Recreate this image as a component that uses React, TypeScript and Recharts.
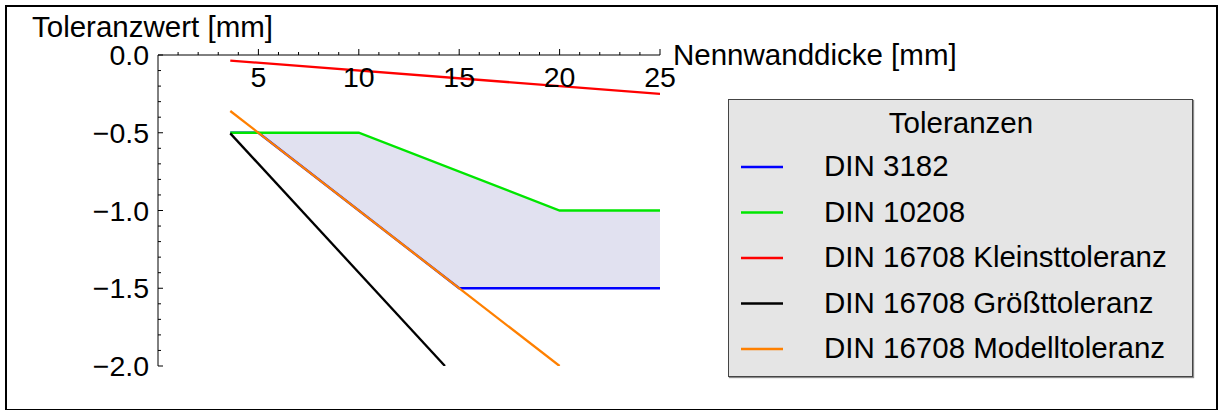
import { ComposedChart, Line, Area, XAxis, YAxis, Legend } from 'recharts'

const FONT = '"Liberation Sans", Arial, sans-serif'
const FONT_SIZE = 29.5
const TICK_SIZE = 28.5

const W = 1219
const H = 410
const PLOT_LEFT = 158
const PLOT_TOP = 55
const PLOT_RIGHT = 660
const PLOT_BOTTOM = 366
const Y_AXIS_W = 60
const X_AXIS_H = 30

// Nennwanddicke [mm] breakpoints and Toleranzwert [mm] per standard
const din3182X = [3.6, 5, 15, 25]
const din3182Y = [-0.5, -0.5, -1.5, -1.5]
const din10208X = [3.6, 10, 20, 25]
const din10208Y = [-0.5, -0.5, -1.0, -1.0]
const kleinstX = [3.6, 25]
const kleinstY = [-0.036, -0.25]
const groesstX = [3.6, 14.29]
const groesstY = [-0.504, -2.0]
const modellX = [3.6, 20]
const modellY = [-0.36, -2.0]

// shaded band between DIN 3182 (lower edge) and DIN 10208 (upper edge)
const bandX = [3.6, 5, 10, 15, 20, 25]
const bandLow = [-0.5, -0.5, -1.0, -1.5, -1.5, -1.5]
const bandHigh = [-0.5, -0.5, -0.5, -0.75, -1.0, -1.0]

const xTicks = Array.from({ length: 25 }, (_, i) => i + 1)
const yTicks = Array.from({ length: 21 }, (_, i) => -i / 10)

const series = [
  { key: 'din3182', name: 'DIN 3182', color: '#0000ff', xs: din3182X, ys: din3182Y },
  { key: 'din10208', name: 'DIN 10208', color: '#00e600', xs: din10208X, ys: din10208Y },
  { key: 'kleinst', name: 'DIN 16708 Kleinsttoleranz', color: '#ff0000', xs: kleinstX, ys: kleinstY },
  { key: 'groesst', name: 'DIN 16708 Größttoleranz', color: '#000000', xs: groesstX, ys: groesstY },
  { key: 'modell', name: 'DIN 16708 Modelltoleranz', color: '#ff8000', xs: modellX, ys: modellY },
]

// one row per distinct thickness, each series only fills the rows it has a point for
function buildTable() {
  const rows = new Map<number, Record<string, unknown>>()
  const row = (x: number) => {
    if (!rows.has(x)) rows.set(x, { x })
    return rows.get(x)!
  }
  series.forEach((s) => s.xs.forEach((x, i) => { row(x)[s.key] = s.ys[i] }))
  bandX.forEach((x, i) => { row(x).band = [bandLow[i], bandHigh[i]] })
  return [...rows.values()].sort((a, b) => (a.x as number) - (b.x as number))
}

const data = buildTable()

const fmtY = (v: number) => (v < 0 ? '\u2212' : '') + Math.abs(v).toFixed(1)

function XTick(props: any) {
  const { x, payload } = props
  const major = payload.value % 5 === 0
  return (
    <g>
      <line x1={x} x2={x} y1={PLOT_TOP} y2={PLOT_TOP - (major ? 6 : 3)} stroke="#000" />
      {major && (
        <text x={x} y={PLOT_TOP + 32} textAnchor="middle" fontFamily={FONT} fontSize={TICK_SIZE} fill="#000">
          {payload.value}
        </text>
      )}
    </g>
  )
}

function YTick(props: any) {
  const { y, payload } = props
  const v = payload.value as number
  const major = Math.abs(v * 2 - Math.round(v * 2)) < 1e-9
  return (
    <g>
      <line x1={PLOT_LEFT} x2={PLOT_LEFT + (major ? 5 : 3)} y1={y} y2={y} stroke="#000" />
      {major && (
        <text x={PLOT_LEFT - 9} y={y + 10} textAnchor="end" fontFamily={FONT} fontSize={TICK_SIZE} fill="#000">
          {fmtY(v)}
        </text>
      )}
    </g>
  )
}

// legend rows follow the series order, not the alphabetical payload order
function LegendBox() {
  return (
    <div
      style={{
        width: 465,
        height: 278,
        boxSizing: 'border-box',
        background: '#e5e5e5',
        border: '1.5px solid #444',
        boxShadow: '1px 1px 1px rgba(0,0,0,0.45)',
      }}
    >
      <svg width={462} height={275} style={{ display: 'block' }}>
        <text x={232} y={33} textAnchor="middle" fontFamily={FONT} fontSize={FONT_SIZE} fill="#000">
          Toleranzen
        </text>
        {series.map((s, i) => {
          const base = 76 + i * 45.5
          return (
            <g key={s.key}>
              <line x1={12} x2={54} y1={base - 9} y2={base - 9} stroke={s.color} strokeWidth={2.5} />
              <text x={95} y={base} fontFamily={FONT} fontSize={FONT_SIZE} fill="#000">
                {s.name}
              </text>
            </g>
          )
        })}
      </svg>
    </div>
  )
}

export default function App() {
  return (
    <div style={{ position: 'absolute', left: 0, top: 0, width: W, height: H, background: '#fff' }}>
      <ComposedChart
        width={W}
        height={H}
        data={data}
        margin={{
          top: PLOT_TOP - X_AXIS_H,
          right: W - PLOT_RIGHT,
          bottom: H - PLOT_BOTTOM,
          left: PLOT_LEFT - Y_AXIS_W,
        }}
      >
        <XAxis
          dataKey="x"
          type="number"
          orientation="top"
          domain={[0, 25]}
          ticks={xTicks}
          interval={0}
          height={X_AXIS_H}
          allowDataOverflow
          axisLine={{ stroke: '#000' }}
          tickLine={false}
          tick={XTick}
        />
        <YAxis
          type="number"
          domain={[-2, 0]}
          ticks={yTicks}
          interval={0}
          width={Y_AXIS_W}
          allowDataOverflow
          axisLine={{ stroke: '#000' }}
          tickLine={false}
          tick={YTick}
        />
        <Area
          dataKey="band"
          type="linear"
          fill="#e1e1f0"
          fillOpacity={1}
          stroke="none"
          connectNulls
          legendType="none"
          isAnimationActive={false}
        />
        {series.map((s) => (
          <Line
            key={s.key}
            dataKey={s.key}
            name={s.name}
            type="linear"
            stroke={s.color}
            strokeWidth={2.3}
            dot={false}
            activeDot={false}
            connectNulls
            isAnimationActive={false}
          />
        ))}
        <Legend
          layout="vertical"
          align="center"
          verticalAlign="middle"
          content={LegendBox}
          wrapperStyle={{ position: 'absolute', left: 728, top: 99, width: 465, height: 278 }}
        />
      </ComposedChart>
      <svg width={W} height={H} style={{ position: 'absolute', left: 0, top: 0, pointerEvents: 'none' }}>
        <text x={32} y={37} fontFamily={FONT} fontSize={FONT_SIZE} fill="#000">
          Toleranzwert [mm]
        </text>
        <text x={673} y={65} fontFamily={FONT} fontSize={FONT_SIZE} fill="#000">
          Nennwanddicke [mm]
        </text>
      </svg>
      <div
        style={{
          position: 'absolute',
          left: 5,
          top: 5,
          width: 1213,
          height: 406,
          boxSizing: 'border-box',
          border: '2px solid #000',
          pointerEvents: 'none',
        }}
      />
    </div>
  )
}
